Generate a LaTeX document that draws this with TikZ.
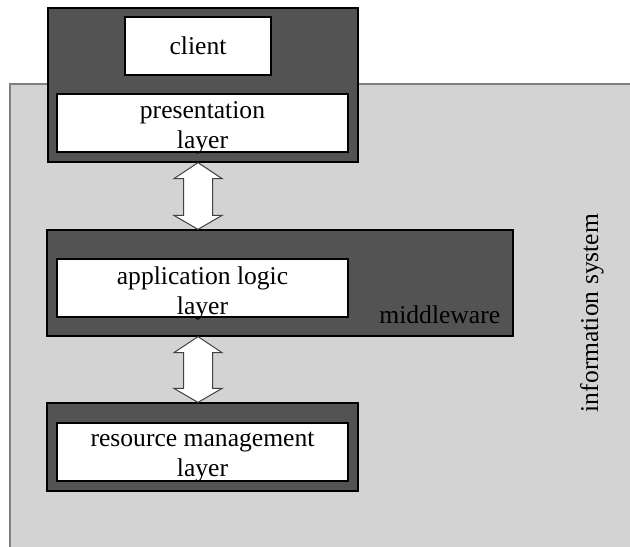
\documentclass[tikz,border=0pt]{standalone}
\usepackage{fontspec}
\setmainfont{Liberation Serif}
\usepackage{tikz}
\usetikzlibrary{fit,positioning,calc}
\definecolor{tiergray}{RGB}{83,83,83}
\definecolor{sysgray}{RGB}{211,211,211}
\tikzset{
    %Define style for the system area
    system/.style={
           fill=sysgray,
           draw=gray,
           line width=0.6pt},
    %Define style for the dark tier boxes
    tier/.style={
           draw=black,
           fill=tiergray,
           line width=0.6pt,
           inner sep=0pt},
    %Define style for the white layer boxes
    layer/.style={
           draw=black,
           fill=white,
           line width=0.6pt,
           inner sep=0pt},
    %Define style for the layer texts
    title/.style={
           align=center,
           inner sep=0pt},
    twoline/.style={
           title,
           yshift=-2.5pt},
    % Define block arrow style
    pil/.style={
           draw=black!75,
           fill=white,
           line width=0.5pt}
}
% double block arrow between two points
\newcommand{\layerarrow}[2]{%
    \draw[pil] (#1) -- ($(#1)+(24,16)$) -- ($(#1)+(14.5,16)$)
        -- ($(#2)+(14.5,-14)$) -- ($(#2)+(24,-14)$) -- (#2)
        -- ($(#2)+(-24,-14)$) -- ($(#2)+(-14.5,-14)$)
        -- ($(#1)+(-14.5,16)$) -- ($(#1)+(-24,16)$) -- cycle;}

\begin{document}
\begin{tikzpicture}[x=0.5pt, y=-0.5pt, font=\fontsize{12.8}{15}\selectfont]
    \useasboundingbox (0,0) rectangle (630,546);

    % information system
    \draw[system] (10,84) rectangle (640,556);
    \node[rotate=90, anchor=base] (infosys) at (598,313) {information system};

    % client tier
    \node[tier, fit={(48,8) (358,162)}] (clienttier) {};
    \node[layer, fit={(125,17) (271,75)}] (client) {};
    \node[layer, fit={(57,94) (348,152)}] (presentation) {};
    \node[title] (clienttext) at (client) {client};
    \node[twoline] (presentationtext) at (presentation) {presentation\\layer};

    % middleware tier
    \node[tier, fit={(47,230) (513,336)}] (middlewaretier) {};
    \node[layer, fit={(57,259) (348,317)}] (application) {};
    \node[twoline] (applicationtext) at (application) {application logic\\layer};
    \node[anchor=base east, inner sep=0pt] (middleware) at ([xshift=-6.5pt, yshift=6.5pt]middlewaretier.south east) {middleware};

    % resource tier
    \node[tier, fit={(47,403) (358,491)}] (resourcetier) {};
    \node[layer, fit={(57,423) (348,481)}] (resource) {};
    \node[twoline] (resourcetext) at (resource) {resource management\\layer};

    % arrows
    \coordinate (a1) at ([xshift=-2.5pt]clienttier.south);
    \coordinate (b1) at (a1 |- middlewaretier.north);
    \coordinate (a2) at (a1 |- middlewaretier.south);
    \coordinate (b2) at (a1 |- resourcetier.north);
    \layerarrow{a1}{b1}
    \layerarrow{a2}{b2}
\end{tikzpicture}
\end{document}
